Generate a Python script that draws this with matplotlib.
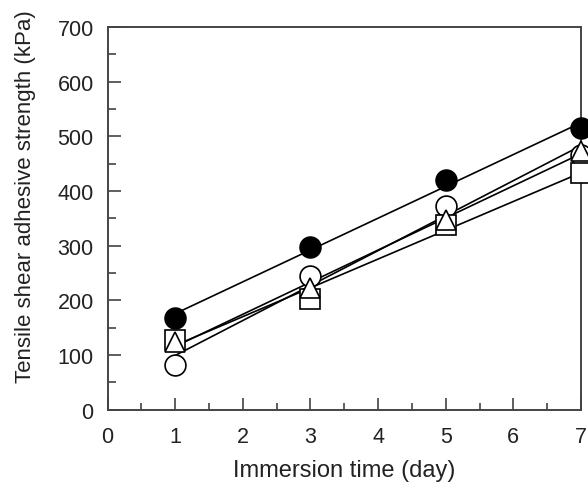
import numpy as np
import matplotlib
matplotlib.use('Agg')
import matplotlib.pyplot as plt
from matplotlib.ticker import MultipleLocator

# Immersion time (day) and tensile shear adhesive strength (kPa) per sample
days = [1, 3, 5, 7]
filled_circle = [168, 298, 421, 515]
open_circle = [82, 245, 372, 466]
open_square = [128, 203, 338, 434]
open_triangle = [124, 223, 348, 474]

plt.rcParams['font.family'] = ['Liberation Sans', 'DejaVu Sans']

fig = plt.figure(figsize=(5.88, 4.85), dpi=100)
ax = fig.add_axes([0.183, 0.153, 0.805, 0.789])

series = [
    (filled_circle, 'o', 'black', 15),
    (open_circle, 'o', 'white', 15),
    (open_square, 's', 'white', 15),
    (open_triangle, '^', 'white', 15),
]

x_fit = np.array([1, 7])
for values, marker, face, size in series:
    # straight-line fit through each sample's points
    slope, intercept = np.polyfit(days, values, 1)
    ax.plot(x_fit, slope * x_fit + intercept, color='black', linewidth=1.2,
            zorder=2, clip_on=False)
for z, (values, marker, face, size) in enumerate(series):
    ax.plot(days, values, linestyle='none', marker=marker, markersize=size,
            markerfacecolor=face, markeredgecolor='black', markeredgewidth=1.2,
            zorder=3 + z, clip_on=False)

ax.set_xlim(0, 7)
ax.set_ylim(0, 700)
ax.xaxis.set_major_locator(MultipleLocator(1))
ax.xaxis.set_minor_locator(MultipleLocator(0.5))
ax.yaxis.set_major_locator(MultipleLocator(100))
ax.yaxis.set_minor_locator(MultipleLocator(50))
ax.tick_params(which='both', direction='in', top=False, right=False,
               width=1.1, color='#333333', labelsize=15.5, labelcolor='#222222')
ax.tick_params(axis='x', which='major', length=9, pad=12)
ax.tick_params(axis='x', which='minor', length=5)
ax.tick_params(axis='y', which='major', length=9, pad=10)
ax.tick_params(axis='y', which='minor', length=6)
for spine in ax.spines.values():
    spine.set_linewidth(1.4)
    spine.set_color('#444444')

ax.set_xlabel('Immersion time (day)', fontsize=17, color='#222222')
ax.set_ylabel('Tensile shear adhesive strength (kPa)', fontsize=16,
              color='#222222')
ax.xaxis.set_label_coords(0.5, -0.128)
ax.yaxis.set_label_coords(-0.151, 0.56)

fig.savefig('out.png', dpi=100)
